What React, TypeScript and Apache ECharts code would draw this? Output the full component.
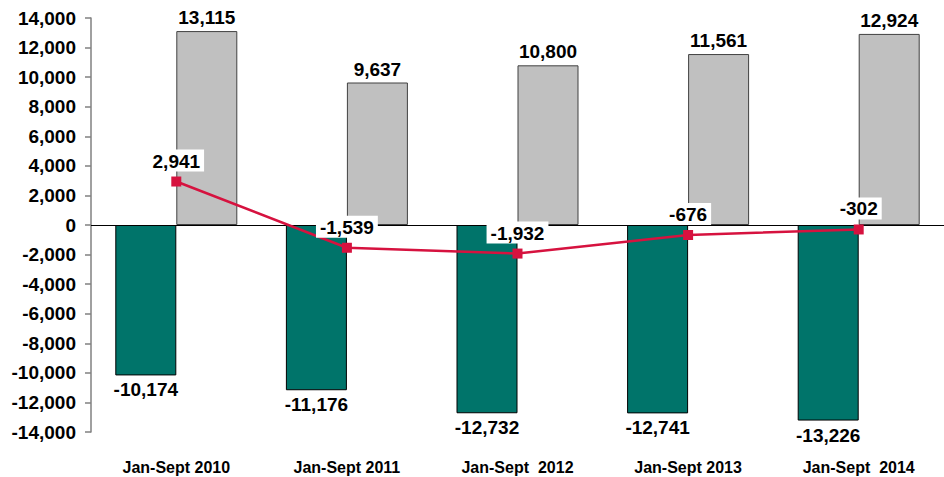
import React, { useEffect, useRef } from "react";
import * as echarts from "echarts";

const categories = ["Jan-Sept 2010", "Jan-Sept 2011", "Jan-Sept  2012", "Jan-Sept 2013", "Jan-Sept  2014"];
const importsValues = [-10174, -11176, -12732, -12741, -13226];
const exportsValues = [13115, 9637, 10800, 11561, 12924];
const balanceValues = [2941, -1539, -1932, -676, -302];
const yMin = -14000;
const yMax = 14000;
const yInterval = 2000;

const fmt = (v: number) => v.toLocaleString("en-US");
const FONT = "'Liberation Sans', Arial, sans-serif";

export default function App() {
  const ref = useRef<HTMLDivElement>(null);
  useEffect(() => {
    if (!ref.current) return;
    const chart = echarts.init(ref.current, null, { renderer: "svg" });
    chart.setOption({
      animation: false,
      backgroundColor: "#ffffff",
      textStyle: { fontFamily: FONT },
      grid: { left: 91, top: 18, width: 855.5, bottom: 45, containLabel: false },
      xAxis: {
        type: "category",
        data: categories,
        position: "bottom",
        axisLine: { show: false, onZero: false },
        axisTick: { show: false },
        axisLabel: {
          margin: 27,
          fontSize: 16,
          fontWeight: "bold",
          color: "#000",
          fontFamily: FONT,
        },
        splitLine: { show: false },
      },
      yAxis: {
        type: "value",
        min: yMin,
        max: yMax,
        interval: yInterval,
        axisLine: { show: true, lineStyle: { color: "#808080", width: 1.5 } },
        axisTick: { show: true, length: 6, lineStyle: { color: "#808080", width: 1.5 } },
        axisLabel: {
          formatter: (v: number) => fmt(v),
          margin: 15,
          fontSize: 19,
          fontWeight: "bold",
          color: "#000",
          fontFamily: FONT,
        },
        splitLine: { show: false },
      },
      series: [
        {
          type: "bar",
          data: importsValues,
          barWidth: 61,
          barGap: "0%",
          itemStyle: { color: "#00746a", borderColor: "#000", borderWidth: 1 },
          label: {
            show: true,
            position: "bottom",
            distance: 5,
            formatter: (p: any) => fmt(p.value),
            fontSize: 19,
            fontWeight: "bold",
            color: "#000",
            fontFamily: FONT,
          },
          markLine: {
            silent: true,
            symbol: "none",
            label: { show: false },
            lineStyle: { color: "#000", width: 1, type: "solid" },
            data: [{ yAxis: 0 }],
            z: 3,
          },
          z: 2,
        },
        {
          type: "bar",
          data: exportsValues,
          barWidth: 61,
          barGap: "0%",
          itemStyle: { color: "#c0c0c0", borderColor: "#404040", borderWidth: 1 },
          label: {
            show: true,
            position: "top",
            distance: 4,
            formatter: (p: any) => fmt(p.value),
            fontSize: 19,
            fontWeight: "bold",
            color: "#000",
            fontFamily: FONT,
          },
          z: 2,
        },
        {
          type: "line",
          data: balanceValues,
          symbol: "rect",
          symbolSize: 10,
          lineStyle: { color: "#d6123f", width: 2.5 },
          itemStyle: { color: "#d6123f" },
          label: {
            show: true,
            position: "top",
            distance: 5,
            formatter: (p: any) => fmt(p.value),
            fontSize: 19,
            fontWeight: "bold",
            color: "#000",
            fontFamily: FONT,
            backgroundColor: "#ffffff",
            padding: [2, 4, 1, 4],
          },
          z: 5,
        },
      ],
    });
    return () => chart.dispose();
  }, []);
  return <div ref={ref} style={{ width: 944, height: 477, position: "absolute", left: 0, top: 0 }} />;
}
